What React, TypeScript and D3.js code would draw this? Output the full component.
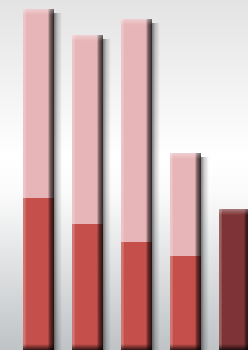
import React from "react";
import * as d3 from "d3";

const categories = ["A", "B", "C", "D", "E"];
const lowerValues = [152, 126, 108, 94, 0];
const upperValues = [189, 189, 223, 103, 0];
const otherValues = [0, 0, 0, 0, 141];

const seriesColors = ["#c54f4b", "#e7b5b8", "#7e3436"];

const W = 248;
const H = 350;

export default function App() {
  const x = d3
    .scaleBand<string>()
    .domain(categories)
    .range([23, 250])
    .paddingInner(18 / 49)
    .paddingOuter(0);
  const y = d3.scaleLinear().domain([0, 350]).range([H, 0]);

  const stack = d3.stack<any>().keys(["lower", "upper", "other"]);
  const rows = categories.map((c, i) => ({
    cat: c,
    lower: lowerValues[i],
    upper: upperValues[i],
    other: otherValues[i],
  }));
  const series = stack(rows);
  const bw = x.bandwidth();

  const totals = rows.map((r) => r.lower + r.upper + r.other);

  return (
    <div style={{ position: "fixed", left: 0, top: 0 }}>
      <svg width={W} height={H} style={{ display: "block" }}>
        <defs>
          <linearGradient id="bg" x1="0" y1="0" x2="0" y2="1">
            <stop offset="0" stopColor="#e3e3e3" />
            <stop offset="0.45" stopColor="#ffffff" />
            <stop offset="0.55" stopColor="#fbfbfb" />
            <stop offset="1" stopColor="#bfc3c6" />
          </linearGradient>
          <linearGradient id="side" x1="0" y1="0" x2="1" y2="0">
            <stop offset="0" stopColor="#fff" stopOpacity="0.22" />
            <stop offset="0.07" stopColor="#fff" stopOpacity="0.22" />
            <stop offset="0.1" stopColor="#fff" stopOpacity="0" />
            <stop offset="0.8" stopColor="#000" stopOpacity="0" />
            <stop offset="0.87" stopColor="#000" stopOpacity="0.45" />
            <stop offset="1" stopColor="#000" stopOpacity="0.8" />
          </linearGradient>
          <linearGradient id="shadow" x1="0" y1="0" x2="1" y2="0">
            <stop offset="0" stopColor="#000" stopOpacity="0.5" />
            <stop offset="0.4" stopColor="#000" stopOpacity="0.2" />
            <stop offset="1" stopColor="#000" stopOpacity="0" />
          </linearGradient>
          <linearGradient id="topHi" x1="0" y1="0" x2="0" y2="1">
            <stop offset="0" stopColor="#fff" stopOpacity="0.35" />
            <stop offset="1" stopColor="#fff" stopOpacity="0" />
          </linearGradient>
          <linearGradient id="botDark" x1="0" y1="0" x2="0" y2="1">
            <stop offset="0" stopColor="#000" stopOpacity="0" />
            <stop offset="1" stopColor="#000" stopOpacity="0.75" />
          </linearGradient>
        </defs>
        <rect x={0} y={0} width={W} height={H} fill="url(#bg)" />
        {rows.map((r, i) => (
          <rect
            key={"sh" + i}
            x={(x(r.cat) as number) + bw}
            y={y(totals[i]) + 4}
            width={8}
            height={H - y(totals[i]) - 4}
            fill="url(#shadow)"
          />
        ))}
        {series.map((s, si) =>
          s.map((d, i) => {
            const h = y(d[0]) - y(d[1]);
            if (h <= 0) return null;
            return (
              <g key={si + "-" + i}>
                <rect
                  x={x(categories[i])}
                  y={y(d[1])}
                  width={bw}
                  height={h}
                  fill={seriesColors[si]}
                />
                <rect
                  x={x(categories[i])}
                  y={y(d[1])}
                  width={bw}
                  height={h}
                  fill="url(#side)"
                />
              </g>
            );
          })
        )}
        {rows.map((r, i) => (
          <g key={"hl" + i}>
            <rect
              x={x(r.cat)}
              y={y(totals[i])}
              width={bw}
              height={6}
              fill="url(#topHi)"
            />
            <rect
              x={x(r.cat)}
              y={H - 6}
              width={bw}
              height={6}
              fill="url(#botDark)"
            />
          </g>
        ))}
      </svg>
    </div>
  );
}
